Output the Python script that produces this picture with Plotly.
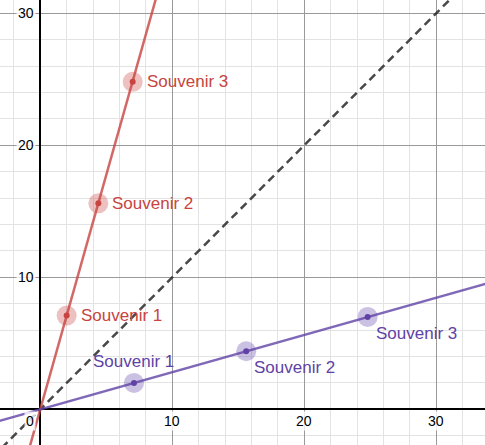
import plotly.graph_objects as go

# Data
labels = ["Souvenir 1", "Souvenir 2", "Souvenir 3"]
red_x = [2.0, 4.4, 7.0]
red_y = [7.1, 15.6, 24.8]
purple_x = [7.1, 15.6, 24.8]
purple_y = [2.0, 4.4, 7.0]
slope_red = 3.55
line_x = [-5, 40]
x_ticks = [10, 20, 30]
y_ticks = [10, 20, 30]

RED = "#c74440"
PURPLE = "#6042a6"
FONT = "Liberation Sans, Arial, sans-serif"

fig = go.Figure()

# identity dashed line
fig.add_trace(go.Scatter(x=line_x, y=line_x, mode="lines",
                         line=dict(color="rgba(40,40,40,0.85)", width=2.5, dash="8px,5px"),
                         hoverinfo="skip", showlegend=False))
# red line
fig.add_trace(go.Scatter(x=line_x, y=[v * slope_red for v in line_x], mode="lines",
                         line=dict(color="rgba(199,68,64,0.8)", width=2.5),
                         hoverinfo="skip", showlegend=False))
# purple line
fig.add_trace(go.Scatter(x=line_x, y=[v / slope_red for v in line_x], mode="lines",
                         line=dict(color="rgba(96,66,166,0.8)", width=2.5),
                         hoverinfo="skip", showlegend=False))

for xs, ys, col in [(red_x, red_y, RED), (purple_x, purple_y, PURPLE)]:
    fig.add_trace(go.Scatter(x=xs, y=ys, mode="markers",
                             marker=dict(size=20, color=col, opacity=0.33, line=dict(width=0)),
                             hoverinfo="skip", showlegend=False))
    fig.add_trace(go.Scatter(x=xs, y=ys, mode="markers",
                             marker=dict(size=6, color=col, line=dict(width=0)),
                             showlegend=False))

annotations = []
for x, y, t in zip(red_x, red_y, labels):
    annotations.append(dict(x=x, y=y, text=t, showarrow=False, xanchor="left", yanchor="middle",
                            xshift=12, font=dict(family=FONT, size=17, color=RED)))
for i, (x, y, t) in enumerate(zip(purple_x, purple_y, labels)):
    if i == 0:
        annotations.append(dict(x=x, y=y, text=t, showarrow=False, xanchor="center", yanchor="bottom",
                                yshift=10, font=dict(family=FONT, size=17, color=PURPLE)))
    else:
        annotations.append(dict(x=x, y=y, text=t, showarrow=False, xanchor="left", yanchor="top",
                                xshift=6, yshift=-5, font=dict(family=FONT, size=17, color=PURPLE)))

tick_font = dict(family=FONT, size=14, color="black")
for v in x_ticks:
    annotations.append(dict(x=v, y=0, text=str(v), showarrow=False, xanchor="center", yanchor="top",
                            yshift=-2, font=tick_font, bgcolor="rgba(255,255,255,0.8)"))
for v in y_ticks:
    annotations.append(dict(x=0, y=v, text=str(v), showarrow=False, xanchor="right", yanchor="middle",
                            xshift=-4, font=tick_font, bgcolor="rgba(255,255,255,0.8)"))
annotations.append(dict(x=0, y=0, text="0", showarrow=False, xanchor="right", yanchor="top",
                        xshift=-4, yshift=-2, font=tick_font, bgcolor="rgba(255,255,255,0.8)"))

axis_common = dict(
    showgrid=True, gridcolor="#9a9a9a", gridwidth=1, dtick=10, tick0=0,
    minor=dict(dtick=2, showgrid=True, gridcolor="#e3e3e3", gridwidth=1),
    zeroline=True, zerolinecolor="black", zerolinewidth=1.6,
    showticklabels=False, ticks="", showline=False, fixedrange=True,
)

fig.update_layout(
    width=485, height=445,
    margin=dict(l=0, r=0, t=0, b=0),
    plot_bgcolor="white", paper_bgcolor="white",
    xaxis=dict(range=[-3.05, 33.69], **axis_common),
    yaxis=dict(range=[-2.70, 31.0], **axis_common),
    annotations=annotations,
    showlegend=False,
)

fig.write_html("out.html", config={"displayModeBar": False},
               post_script="document.body.style.margin='0';document.body.style.overflow='hidden';")
